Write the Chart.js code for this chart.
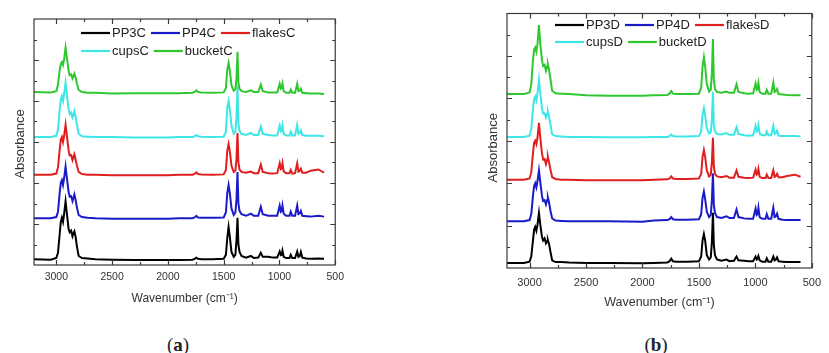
<!DOCTYPE html>
<html>
<head>
<meta charset="utf-8">
<script src="https://cdn.jsdelivr.net/npm/chart.js@4.4.1/dist/chart.umd.min.js"></script>
<style>
  body { margin: 0; background: #fff; width: 829px; height: 353px; position: relative; overflow: hidden; }
  .panel { position: absolute; top: 0; }
  #boxA { left: 0; width: 350px; height: 320px; }
  #boxB { left: 420px; width: 409px; height: 325px; }
  .cap { position: absolute; top: 334px; line-height: 22px; font-family: "Liberation Serif", "Times New Roman", serif; font-size: 19px; color: #222; transform: translateX(-50%); }
</style>
</head>
<body>
<div class="panel" id="boxA"><canvas id="chartA"></canvas></div>
<div class="panel" id="boxB"><canvas id="chartB"></canvas></div>
<div class="cap" style="left:178px">(<b>a</b>)</div>
<div class="cap" style="left:656px">(<b>b</b>)</div>
<script>
// wavenumber grid (cm-1), shared by every spectrum
const wavenumbers = [
  3200, 3050, 3000, 2985, 2970, 2960, 2950, 2940, 2930, 2917,
  2905, 2890, 2880, 2867, 2855, 2845, 2838, 2828, 2815, 2800,
  2770, 2720, 2650, 2500, 2300, 2000, 1900, 1780, 1760, 1745,
  1730, 1700, 1600, 1500, 1480, 1468, 1456, 1445, 1430, 1410,
  1395, 1385, 1376, 1368, 1358, 1340, 1300, 1256, 1230, 1190,
  1167, 1150, 1100, 1060, 1020, 998, 988, 980, 973, 962,
  940, 910, 899, 885, 860, 841, 830, 818, 808, 795,
  760, 720, 650, 600
];

const xMajor = [3000, 2500, 2000, 1500, 1000, 500];
const xMinor = [2750, 2250, 1750, 1250, 750];
const yMajor = [1, 2, 3, 4, 5];
const yMinor = [0.5, 1.5, 2.5, 3.5, 4.5, 5.5];

// (a) samples, stacked with offsets
const pp3C = [
  0.14, 0.13, 0.17, 0.30, 0.75, 1.05, 1.15, 1.05, 1.25, 1.55,
  1.25, 0.88, 0.80, 0.84, 0.70, 0.78, 0.82, 0.70, 0.45, 0.22,
  0.17, 0.16, 0.14, 0.13, 0.12, 0.12, 0.12, 0.13, 0.15, 0.18,
  0.15, 0.14, 0.14, 0.15, 0.25, 0.65, 0.93, 0.70, 0.32, 0.20,
  0.25, 0.60, 1.15, 0.50, 0.32, 0.22, 0.18, 0.22, 0.17, 0.18,
  0.30, 0.20, 0.20, 0.18, 0.18, 0.33, 0.24, 0.25, 0.35, 0.20,
  0.17, 0.17, 0.25, 0.17, 0.17, 0.33, 0.20, 0.22, 0.32, 0.18,
  0.16, 0.15, 0.16, 0.15
];
const pp4C = [
  1.14, 1.14, 1.17, 1.30, 1.75, 2.00, 2.07, 1.95, 2.12, 2.40,
  2.12, 1.78, 1.67, 1.68, 1.56, 1.65, 1.72, 1.60, 1.40, 1.22,
  1.17, 1.15, 1.14, 1.13, 1.13, 1.13, 1.14, 1.14, 1.16, 1.20,
  1.16, 1.15, 1.15, 1.16, 1.28, 1.75, 1.95, 1.75, 1.38, 1.22,
  1.28, 1.60, 2.27, 1.50, 1.32, 1.24, 1.20, 1.25, 1.20, 1.20,
  1.42, 1.24, 1.20, 1.20, 1.20, 1.45, 1.30, 1.32, 1.45, 1.25,
  1.20, 1.20, 1.30, 1.20, 1.20, 1.45, 1.24, 1.26, 1.32, 1.20,
  1.19, 1.18, 1.20, 1.18
];
const flakesC = [
  2.20, 2.20, 2.23, 2.38, 2.80, 3.05, 3.12, 3.00, 3.15, 3.42,
  3.15, 2.80, 2.67, 2.68, 2.56, 2.65, 2.70, 2.58, 2.42, 2.27,
  2.22, 2.20, 2.20, 2.19, 2.19, 2.19, 2.20, 2.20, 2.22, 2.26,
  2.22, 2.21, 2.20, 2.21, 2.32, 2.78, 2.95, 2.78, 2.42, 2.27,
  2.30, 2.60, 3.22, 2.50, 2.33, 2.27, 2.25, 2.28, 2.24, 2.24,
  2.45, 2.27, 2.24, 2.23, 2.24, 2.48, 2.34, 2.36, 2.48, 2.28,
  2.24, 2.24, 2.32, 2.23, 2.24, 2.48, 2.28, 2.30, 2.35, 2.25,
  2.25, 2.30, 2.33, 2.25
];
const cupsC = [
  3.12, 3.12, 3.15, 3.30, 3.78, 4.03, 4.12, 4.00, 4.17, 4.45,
  4.15, 3.80, 3.68, 3.72, 3.60, 3.68, 3.75, 3.62, 3.42, 3.20,
  3.14, 3.13, 3.12, 3.12, 3.11, 3.11, 3.12, 3.12, 3.14, 3.17,
  3.14, 3.13, 3.12, 3.13, 3.25, 3.82, 4.00, 3.80, 3.40, 3.20,
  3.25, 3.60, 4.38, 3.45, 3.27, 3.20, 3.17, 3.22, 3.17, 3.17,
  3.38, 3.20, 3.17, 3.16, 3.16, 3.40, 3.26, 3.28, 3.40, 3.20,
  3.16, 3.16, 3.25, 3.16, 3.16, 3.42, 3.20, 3.22, 3.28, 3.17,
  3.15, 3.15, 3.15, 3.14
];
const bucketC = [
  4.22, 4.21, 4.24, 4.40, 4.75, 4.90, 4.95, 4.88, 5.02, 5.30,
  5.05, 4.75, 4.63, 4.65, 4.55, 4.62, 4.67, 4.58, 4.42, 4.27,
  4.22, 4.20, 4.20, 4.18, 4.19, 4.19, 4.19, 4.20, 4.22, 4.26,
  4.22, 4.21, 4.20, 4.21, 4.32, 4.75, 4.93, 4.75, 4.38, 4.25,
  4.28, 4.55, 5.20, 4.45, 4.30, 4.24, 4.22, 4.26, 4.22, 4.22,
  4.40, 4.24, 4.21, 4.21, 4.21, 4.42, 4.30, 4.32, 4.42, 4.24,
  4.20, 4.20, 4.28, 4.20, 4.20, 4.42, 4.24, 4.25, 4.30, 4.20,
  4.19, 4.18, 4.18, 4.17
];

// (b) samples
const pp3D = [
  0.12, 0.12, 0.15, 0.27, 0.65, 0.90, 0.97, 0.88, 1.02, 1.30,
  1.02, 0.73, 0.65, 0.70, 0.58, 0.63, 0.66, 0.57, 0.38, 0.18,
  0.14, 0.14, 0.13, 0.12, 0.12, 0.11, 0.12, 0.13, 0.16, 0.22,
  0.16, 0.15, 0.15, 0.16, 0.27, 0.65, 0.80, 0.65, 0.30, 0.20,
  0.25, 0.62, 1.30, 0.55, 0.30, 0.20, 0.17, 0.20, 0.16, 0.17,
  0.27, 0.18, 0.17, 0.16, 0.16, 0.27, 0.20, 0.22, 0.28, 0.18,
  0.15, 0.15, 0.23, 0.15, 0.15, 0.27, 0.18, 0.20, 0.25, 0.16,
  0.15, 0.14, 0.14, 0.14
];
const pp4D = [
  1.10, 1.10, 1.13, 1.27, 1.70, 1.93, 2.00, 1.90, 2.05, 2.30,
  2.02, 1.70, 1.58, 1.60, 1.50, 1.60, 1.66, 1.55, 1.35, 1.17,
  1.12, 1.11, 1.10, 1.10, 1.10, 1.09, 1.12, 1.13, 1.15, 1.20,
  1.15, 1.14, 1.14, 1.15, 1.27, 1.65, 1.80, 1.63, 1.32, 1.20,
  1.25, 1.60, 2.23, 1.50, 1.30, 1.20, 1.18, 1.22, 1.18, 1.18,
  1.38, 1.20, 1.17, 1.16, 1.16, 1.40, 1.25, 1.27, 1.42, 1.20,
  1.16, 1.16, 1.27, 1.16, 1.16, 1.42, 1.20, 1.22, 1.28, 1.16,
  1.14, 1.13, 1.13, 1.13
];
const flakesD = [
  2.08, 2.08, 2.11, 2.26, 2.70, 2.95, 3.00, 2.92, 3.07, 3.42,
  3.07, 2.70, 2.56, 2.57, 2.45, 2.55, 2.62, 2.50, 2.32, 2.14,
  2.10, 2.08, 2.08, 2.07, 2.07, 2.07, 2.08, 2.09, 2.11, 2.16,
  2.11, 2.10, 2.10, 2.11, 2.22, 2.62, 2.78, 2.62, 2.30, 2.16,
  2.20, 2.50, 3.07, 2.40, 2.22, 2.16, 2.14, 2.17, 2.13, 2.13,
  2.30, 2.15, 2.13, 2.12, 2.13, 2.32, 2.20, 2.22, 2.33, 2.15,
  2.12, 2.12, 2.20, 2.12, 2.12, 2.30, 2.15, 2.17, 2.22, 2.14,
  2.14, 2.17, 2.20, 2.15
];
const cupsD = [
  3.09, 3.09, 3.12, 3.28, 3.75, 3.98, 4.04, 3.95, 4.12, 4.43,
  4.12, 3.76, 3.64, 3.65, 3.55, 3.63, 3.68, 3.57, 3.38, 3.15,
  3.11, 3.10, 3.09, 3.09, 3.08, 3.08, 3.09, 3.09, 3.11, 3.15,
  3.11, 3.10, 3.10, 3.11, 3.22, 3.62, 3.77, 3.60, 3.30, 3.17,
  3.20, 3.50, 4.15, 3.38, 3.22, 3.16, 3.15, 3.18, 3.14, 3.14,
  3.32, 3.16, 3.13, 3.12, 3.13, 3.35, 3.22, 3.24, 3.36, 3.16,
  3.13, 3.13, 3.22, 3.13, 3.13, 3.35, 3.16, 3.18, 3.24, 3.12,
  3.11, 3.11, 3.11, 3.10
];
const bucketD = [
  4.10, 4.10, 4.14, 4.33, 4.90, 5.15, 5.20, 5.10, 5.28, 5.73,
  5.28, 4.90, 4.76, 4.79, 4.65, 4.75, 4.80, 4.68, 4.45, 4.18,
  4.12, 4.11, 4.10, 4.07, 4.06, 4.06, 4.07, 4.08, 4.11, 4.17,
  4.11, 4.10, 4.10, 4.11, 4.25, 4.75, 4.97, 4.75, 4.33, 4.16,
  4.20, 4.60, 5.40, 4.45, 4.22, 4.15, 4.13, 4.16, 4.13, 4.13,
  4.33, 4.15, 4.12, 4.11, 4.12, 4.35, 4.20, 4.22, 4.36, 4.15,
  4.11, 4.11, 4.20, 4.11, 4.11, 4.37, 4.15, 4.17, 4.22, 4.10,
  4.09, 4.08, 4.07, 4.07
];

const colors = ['#000000', '#1a1ac8', '#e01e1e', '#3ee6e6', '#2ec82e'];
const FONT = '"Liberation Sans", Arial, sans-serif';

// box frame, inward ticks on all four sides, y title and the two-row legend
const frameTicks = {
  id: 'frameTicks',
  afterDatasetsDraw(chart, args, opts) {
    const { ctx, chartArea: a, scales: { x, y } } = chart;
    ctx.save();
    ctx.strokeStyle = '#3a3a3a';
    ctx.lineWidth = 1.2;
    ctx.strokeRect(a.left, a.top, a.width, a.height);
    ctx.beginPath();
    const xt = (v, len) => {
      const px = Math.round(x.getPixelForValue(v)) + 0.5;
      ctx.moveTo(px, a.bottom); ctx.lineTo(px, a.bottom - len);
      ctx.moveTo(px, a.top); ctx.lineTo(px, a.top + len);
    };
    const yt = (v, len) => {
      const py = Math.round(y.getPixelForValue(v)) + 0.5;
      ctx.moveTo(a.left, py); ctx.lineTo(a.left + len, py);
      ctx.moveTo(a.right, py); ctx.lineTo(a.right - len, py);
    };
    xMajor.forEach(v => xt(v, 5));
    xMinor.forEach(v => xt(v, 3));
    yMajor.forEach(v => yt(v, 5));
    yMinor.forEach(v => yt(v, 3));
    ctx.stroke();

    // vertical axis title
    ctx.font = '13px ' + FONT;
    ctx.fillStyle = '#333';
    ctx.textAlign = 'center';
    ctx.textBaseline = 'middle';
    ctx.save();
    ctx.translate(opts.yTitleX, (a.top + a.bottom) / 2 + opts.yTitleDy);
    ctx.rotate(-Math.PI / 2);
    ctx.fillText('Absorbance', 0, 0);
    ctx.restore();

    ctx.textAlign = 'left';
    const rows = [[0, 1, 2], [3, 4]];
    rows.forEach((row, r) => {
      let cx = a.left + opts.legendX;
      const cy = a.top + opts.rowY[r];
      row.forEach(i => {
        const ds = chart.data.datasets[i];
        ctx.strokeStyle = ds.borderColor;
        ctx.lineWidth = 2.2;
        ctx.beginPath();
        ctx.moveTo(cx, cy); ctx.lineTo(cx + 29, cy);
        ctx.stroke();
        ctx.fillStyle = '#222';
        ctx.fillText(ds.label, cx + 31, cy + 0.5);
        cx += 31 + ctx.measureText(ds.label).width + 5;
      });
    });
    ctx.restore();
  }
};

function series(labels, values) {
  return labels.map((lab, i) => ({
    label: lab,
    data: wavenumbers.map((w, k) => ({ x: w, y: values[i][k] })),
    borderColor: colors[i],
    borderWidth: 2,
    pointRadius: 0,
    tension: 0,
    fill: false,
    order: labels.length - i   // later samples are drawn over earlier ones
  }));
}

function makeChart(id, labels, values, cfg) {
  return new Chart(document.getElementById(id), {
    type: 'line',
    data: { datasets: series(labels, values) },
    options: {
      responsive: true,
      maintainAspectRatio: false,
      animation: false,
      layout: { padding: { top: cfg.top, right: cfg.right, left: 0, bottom: 0 } },
      plugins: {
        legend: { display: false },
        tooltip: { enabled: false },
        frameTicks: { legendX: cfg.legendX, rowY: cfg.rowY, yTitleX: cfg.yTitleX, yTitleDy: cfg.yTitleDy }
      },
      scales: {
        x: {
          type: 'linear',
          min: 500,
          max: 3200,
          reverse: true,
          grid: { display: false, drawTicks: false },
          border: { display: false },
          afterBuildTicks: s => { s.ticks = xMajor.map(v => ({ value: v })); },
          afterFit: s => { s.height = cfg.xHeight; },
          ticks: {
            padding: cfg.tickPad,
            color: '#333',
            font: { family: FONT, size: cfg.tickSize },
            callback: v => String(v)
          },
          title: {
            display: true,
            text: 'Wavenumber (cm⁻¹)',
            color: '#333',
            font: { family: FONT, size: cfg.xTitleSize },
            padding: { top: 0, bottom: cfg.xTitlePad }
          }
        },
        y: {
          min: 0,
          max: 6,
          grid: { display: false, drawTicks: false },
          border: { display: false },
          ticks: { display: false },
          afterFit: s => { s.width = cfg.yWidth; }
        }
      }
    },
    plugins: [frameTicks]
  });
}

makeChart('chartA', ['PP3C', 'PP4C', 'flakesC', 'cupsC', 'bucketC'],
  [pp3C, pp4C, flakesC, cupsC, bucketC],
  { top: 19, right: 10, yWidth: 34, xHeight: 55, tickPad: 6, tickSize: 10.5,
    xTitleSize: 12, xTitlePad: 14, yTitleX: 20, yTitleDy: 2, legendX: 47, rowY: [14, 32] });

makeChart('chartB', ['PP3D', 'PP4D', 'flakesD', 'cupsD', 'bucketD'],
  [pp3D, pp4D, flakesD, cupsD, bucketD],
  { top: 13.5, right: 5, yWidth: 87, xHeight: 57, tickPad: 8, tickSize: 11,
    xTitleSize: 12.5, xTitlePad: 15, yTitleX: 73, yTitleDy: 7, legendX: 48, rowY: [11.5, 28.5] });
</script>
</body>
</html>
